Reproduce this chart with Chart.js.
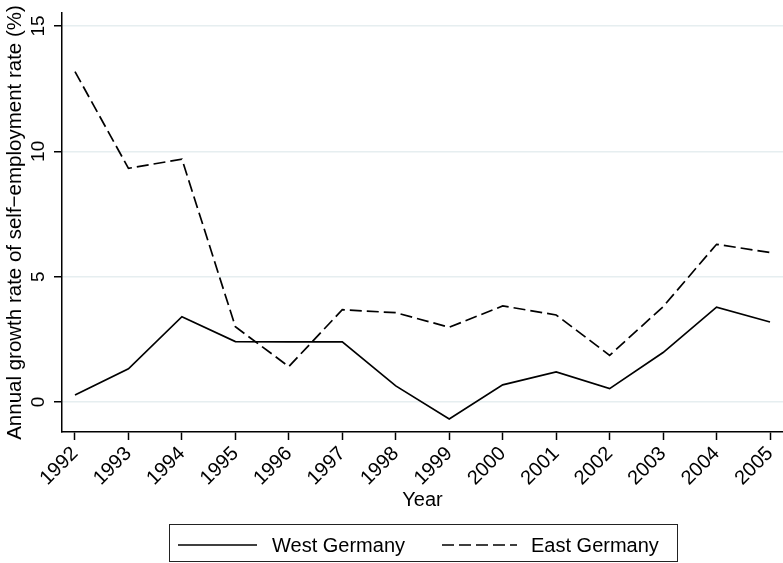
<!DOCTYPE html>
<html><head><meta charset="utf-8">
<script src="https://cdn.jsdelivr.net/npm/chart.js@4/dist/chart.umd.min.js"></script>
<style>html,body{margin:0;padding:0;background:#fff}#wrap{width:783px;height:563px}canvas{display:block}</style>
</head><body><div id="wrap"><canvas id="c" width="783" height="563"></canvas></div>
<script>
const years = [1992, 1993, 1994, 1995, 1996, 1997, 1998, 1999, 2000, 2001, 2002, 2003, 2004, 2005];
const westGermany = [0.28, 1.32, 3.40, 2.41, 2.40, 2.40, 0.64, -0.68, 0.68, 1.20, 0.53, 1.97, 3.78, 3.19];
const eastGermany = [13.18, 9.32, 9.69, 3.00, 1.41, 3.68, 3.56, 2.98, 3.83, 3.47, 1.86, 3.80, 6.29, 5.96];
const yTickValues = [0, 5, 10, 15];
const seriesLabels = ['West Germany', 'East Germany'];
const xTitle = 'Year';
const yTitle = 'Annual growth rate of self\u2212employment rate (%)';

const FONT = "'Liberation Sans', Arial, sans-serif";

const yTickLabelPlugin = {
  id: 'yTickLabels',
  afterDraw(chart) {
    const ctx = chart.ctx, ys = chart.scales.y;
    ctx.save();
    ctx.fillStyle = '#000';
    ctx.font = '19px ' + FONT;
    ctx.textAlign = 'center';
    ctx.textBaseline = 'middle';
    yTickValues.forEach(v => {
      const py = ys.getPixelForValue(v);
      ctx.save();
      ctx.translate(38.5, py);
      ctx.rotate(-Math.PI / 2);
      ctx.fillText(String(v), 0, 0);
      ctx.restore();
    });
    ctx.restore();
  }
};

const legendPlugin = {
  id: 'boxLegend',
  afterDraw(chart) {
    const ctx = chart.ctx;
    const ds = chart.data.datasets;
    ctx.save();
    ctx.strokeStyle = '#222';
    ctx.lineWidth = 1;
    ctx.strokeRect(169.5, 524.5, 508, 37);
    const cy = 545;
    const items = [{x0: 178, x1: 257, tx: 272}, {x0: 442, x1: 517, tx: 531}];
    ctx.font = '20px ' + FONT;
    ctx.textBaseline = 'middle';
    ctx.textAlign = 'left';
    ctx.fillStyle = '#000';
    items.forEach((it, i) => {
      ctx.beginPath();
      ctx.setLineDash(ds[i].borderDash || []);
      ctx.lineWidth = ds[i].borderWidth;
      ctx.strokeStyle = ds[i].borderColor;
      ctx.moveTo(it.x0, cy);
      ctx.lineTo(it.x1, cy);
      ctx.stroke();
      ctx.setLineDash([]);
      ctx.fillText(ds[i].label, it.tx, cy + 1);
    });
    ctx.restore();
  }
};

new Chart(document.getElementById('c'), {
  type: 'line',
  data: {
    datasets: [
      {
        label: seriesLabels[0],
        data: years.map((x, i) => ({x: x, y: westGermany[i]})),
        borderColor: '#000', borderWidth: 1.7, pointRadius: 0, tension: 0, fill: false
      },
      {
        label: seriesLabels[1],
        data: years.map((x, i) => ({x: x, y: eastGermany[i]})),
        borderColor: '#000', borderWidth: 1.7, borderDash: [12, 5], pointRadius: 0, tension: 0, fill: false
      }
    ]
  },
  options: {
    responsive: false,
    animation: false,
    devicePixelRatio: 1,
    layout: {padding: {top: 13, left: 0, right: 0, bottom: 51}},
    plugins: {legend: {display: false}, tooltip: {enabled: false}},
    scales: {
      x: {
        type: 'linear',
        min: 1991.757,
        max: 2005.243,
        afterBuildTicks: s => { s.ticks = years.map(v => ({value: v})); },
        afterFit: s => { s.height = 80; s.paddingLeft = 0; s.paddingRight = 0; },
        ticks: {
          font: {size: 20, family: FONT}, color: '#000',
          minRotation: 45, maxRotation: 45, autoSkip: false, padding: 2,
          callback: v => String(v)
        },
        grid: {drawOnChartArea: false, tickLength: 8, tickColor: '#000', tickWidth: 1.5},
        border: {color: '#000', width: 1.5},
        title: {display: true, text: xTitle, color: '#000', font: {size: 20, family: FONT}, padding: {top: 0, bottom: 0}}
      },
      y: {
        type: 'linear',
        min: -1.2,
        max: 15.52,
        afterBuildTicks: s => { s.ticks = yTickValues.map(v => ({value: v})); },
        afterFit: s => { s.width = 62; },
        ticks: {display: false},
        grid: {color: '#e6eef0', lineWidth: 1.5, tickLength: 8, tickColor: '#000', tickWidth: 1.5},
        border: {color: '#000', width: 1.5},
        title: {display: true, text: yTitle, color: '#000', font: {size: 20.5, family: FONT}, padding: {top: 3, bottom: 0}}
      }
    }
  },
  plugins: [yTickLabelPlugin, legendPlugin]
});
</script>
</body></html>
